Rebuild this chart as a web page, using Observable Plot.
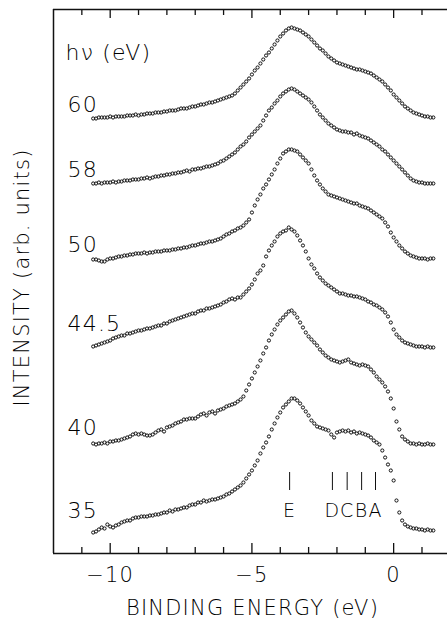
<!DOCTYPE html>
<html><head><meta charset="utf-8">
<script src="https://cdn.jsdelivr.net/npm/d3@7"></script>
<script src="https://cdn.jsdelivr.net/npm/@observablehq/plot@0.6"></script>
<style>html,body{margin:0;padding:0;background:#fff} svg{display:block} #chart svg text{letter-spacing:1.2px}</style>
</head><body><div id="chart"></div>
<script>
// Binding energy grid (eV)
const energies = [
-10.6,-10.5,-10.4,-10.3,-10.2,-10.1,-10.0,-9.9,-9.8,-9.7,
-9.6,-9.5,-9.4,-9.3,-9.2,-9.1,-9.0,-8.9,-8.8,-8.7,
-8.6,-8.5,-8.4,-8.3,-8.2,-8.1,-8.0,-7.9,-7.8,-7.7,
-7.6,-7.5,-7.4,-7.3,-7.2,-7.1,-7.0,-6.9,-6.8,-6.7,
-6.6,-6.5,-6.4,-6.3,-6.2,-6.1,-6.0,-5.9,-5.8,-5.7,
-5.6,-5.5,-5.4,-5.3,-5.2,-5.1,-5.0,-4.9,-4.8,-4.7,
-4.6,-4.5,-4.4,-4.3,-4.2,-4.1,-4.0,-3.9,-3.8,-3.7,
-3.6,-3.5,-3.4,-3.3,-3.2,-3.1,-3.0,-2.9,-2.8,-2.7,
-2.6,-2.5,-2.4,-2.3,-2.2,-2.1,-2.0,-1.9,-1.8,-1.7,
-1.6,-1.5,-1.4,-1.3,-1.2,-1.1,-1.0,-0.9,-0.8,-0.7,
-0.6,-0.5,-0.4,-0.3,-0.2,-0.1,0.0,0.1,0.2,0.3,
0.4,0.5,0.6,0.7,0.8,0.9,1.0,1.1,1.2,1.3,
1.4];

// Photon energies (eV) labelling each spectrum
const photonEnergies = ["60", "58", "50", "44.5", "40", "35"];

// Intensities (arb. units, spectra stacked with offsets)
const i60 = [
435,435,436,436,436,436,437,436,437,437,
437,437,438,438,438,439,438,439,439,440,
440,440,441,441,441,442,442,443,443,443,
444,445,445,445,446,447,447,448,449,449,
450,451,451,452,453,454,455,456,457,458,
460,463,466,469,472,475,479,483,486,490,
494,498,501,505,509,513,517,520,523,525,
526,525,524,523,521,519,517,514,511,508,
505,503,500,497,495,493,491,490,489,488,
487,486,485,484,484,483,482,481,480,478,
476,474,472,469,466,463,459,456,453,450,
447,445,443,441,440,439,438,437,437,436,
436];
const i58 = [
370,370,371,370,371,371,371,372,371,372,
372,373,373,373,374,374,374,375,375,376,
375,376,377,377,378,378,379,379,380,380,
381,381,382,383,382,384,384,385,385,386,
387,387,388,389,390,392,393,395,397,399,
401,404,407,409,412,416,419,422,425,428,
433,438,443,446,450,453,457,460,462,464,
465,464,462,460,458,456,454,451,447,443,
439,436,433,430,428,426,424,423,422,422,
421,421,419,420,418,417,416,415,413,411,
409,407,404,402,399,396,393,390,387,384,
381,378,375,373,372,371,371,370,370,370,
370];
const i50 = [
294,294,293,292,292,294,295,295,296,297,
297,298,298,299,299,300,300,300,301,300,
301,301,302,302,302,303,303,303,304,304,
305,305,306,306,307,308,308,309,310,310,
311,312,312,313,314,315,317,319,320,322,
323,325,326,328,331,334,341,348,354,359,
365,369,374,379,384,390,395,400,402,404,
404,403,402,399,396,393,390,384,378,373,
369,365,362,359,358,357,356,355,354,353,
352,351,350,350,348,347,346,345,343,341,
339,337,335,331,327,321,316,312,308,305,
302,300,298,297,296,295,295,295,294,295,
295];
const i445 = [
207,208,209,210,211,212,213,215,216,217,
218,218,220,220,221,222,223,223,224,225,
225,226,227,228,228,230,230,232,233,234,
235,236,237,238,239,240,240,242,243,243,
245,245,246,247,248,249,251,252,254,255,
254,256,256,259,262,265,269,274,280,283,
288,297,303,308,312,317,320,322,323,326,
324,322,318,313,308,302,295,289,285,280,
276,273,270,268,266,264,262,260,260,259,
258,258,257,257,256,255,254,252,251,249,
248,246,244,241,237,231,224,219,216,213,
211,210,209,208,207,207,207,206,207,206,
206];
const i40 = [
110,109,110,110,111,110,112,112,113,113,
114,115,116,117,119,120,119,120,119,118,
118,119,121,123,124,122,126,127,128,130,
131,132,134,134,135,135,135,137,139,140,
138,141,142,140,143,144,145,147,148,149,
150,152,154,157,163,169,175,181,187,193,
200,206,213,219,224,229,233,236,239,242,
243,240,236,231,226,221,217,214,211,208,
204,201,198,196,194,193,192,191,192,193,
194,191,190,189,188,189,188,187,184,181,
177,174,171,167,162,155,145,132,124,117,
114,112,110,110,109,110,109,109,110,109,
109];
const i35 = [
21,22,24,26,25,29,27,26,28,29,
31,32,33,33,35,36,36,37,37,37,
38,38,39,39,40,41,41,43,42,44,
44,45,46,46,48,49,49,51,51,53,
52,53,54,54,55,56,57,59,60,62,
64,66,68,71,75,79,83,88,93,100,
106,111,117,124,130,136,141,146,149,152,
155,155,153,150,146,142,138,133,130,127,
126,125,124,123,119,116,121,122,123,122,
123,121,122,120,121,120,119,118,116,113,
111,109,103,96,89,83,73,53,41,33,
29,27,26,25,25,24,24,23,24,23,
23];

// Feature markers
const featureNames = ["E", "D", "C", "B", "A"];
const featureEnergies = [-3.67, -2.16, -1.64, -1.13, -0.64];

// Axis ticks
const xTickValues = [-11, -10, -9, -8, -7, -6, -5, -4, -3, -2, -1, 0, 1];
const xTickLabels = [-10, -5, 0];

const series = [i60, i58, i50, i445, i40, i35];
const points = series.flatMap((vals, k) =>
  vals.map((v, j) => ({hv: photonEnergies[k], energy: energies[j], intensity: v})));
// each label sits just above the level of its spectrum near the left end
const labelRows = series.map((vals, k) => ({hv: photonEnergies[k], intensity: vals[10]}));
const features = featureNames.map((n, k) => ({name: n, energy: featureEnergies[k]}));
const isMajor = d => xTickLabels.includes(d);
const fmt = d => d < 0 ? "\u2212" + (-d) : String(d);
const font = "'DejaVu Sans ExtraLight', 'DejaVu Sans', sans-serif";

const chart = Plot.plot({
  width: 447,
  height: 623,
  marginTop: 9,
  marginBottom: 70,
  marginLeft: 53,
  marginRight: 0,
  style: {fontFamily: font, fontWeight: 200, color: "#000", background: "#fff"},
  x: {domain: [-12, 1.9], axis: null},
  y: {domain: [0, 544], axis: null},
  marks: [
    Plot.ruleY([0, 544], {stroke: "#111", strokeWidth: 1.5}),
    Plot.ruleX([-12], {stroke: "#111", strokeWidth: 1.5}),
    Plot.ruleX(xTickValues, {x: d => d, y1: 0, y2: d => isMajor(d) ? 10 : 6, stroke: "#111", strokeWidth: 1.3}),
    Plot.ruleX(xTickValues, {x: d => d, y1: 544, y2: d => isMajor(d) ? 535 : 538, stroke: "#111", strokeWidth: 1.3}),
    Plot.axisX({ticks: xTickLabels, tickSize: 0, tickPadding: 14, tickFormat: fmt, fontSize: 21, fill: "#000", label: null}),
    Plot.dot(points, {x: "energy", y: "intensity", r: 1.6, stroke: "#111", strokeWidth: 1, fill: "none"}),
    Plot.text(labelRows, {y: "intensity", text: "hv", frameAnchor: "left", dx: 14, dy: -12, textAnchor: "start", fontSize: 22, fill: "#000"}),
    Plot.text(["h\u03bd (eV)"], {frameAnchor: "top-left", dx: 12, dy: 43, lineAnchor: "middle", textAnchor: "start", fontSize: 22, fill: "#000"}),
    Plot.ruleX(features, {x: "energy", y1: 63, y2: 81, stroke: "#111", strokeWidth: 1}),
    Plot.text(features, {x: "energy", y: 43, text: "name", fontSize: 19, fill: "#000"}),
    Plot.text(["BINDING ENERGY (eV)"], {frameAnchor: "bottom", dy: 55, dx: 2, lineAnchor: "middle", textAnchor: "middle", fontSize: 21, fill: "#000"}),
    Plot.text(["INTENSITY (arb. units)"], {frameAnchor: "left", rotate: -90, dx: -31, dy: -4, textAnchor: "middle", lineAnchor: "middle", fontSize: 21, fill: "#000"})
  ]
});
document.getElementById("chart").appendChild(chart);
</script>
</body></html>
